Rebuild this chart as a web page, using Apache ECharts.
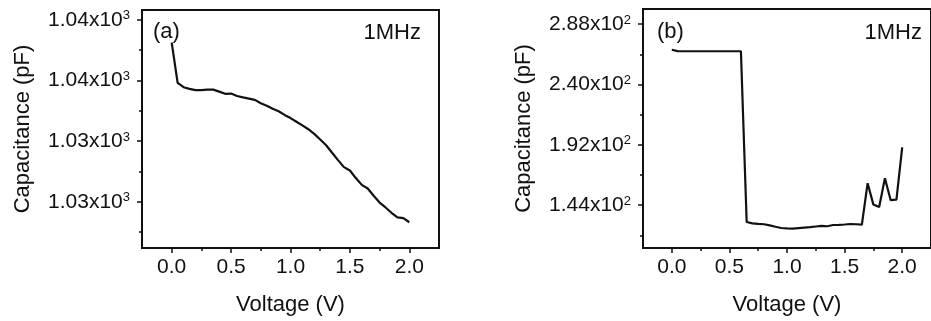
<!DOCTYPE html>
<html>
<head>
<meta charset="utf-8">
<script src="https://cdn.jsdelivr.net/npm/echarts@6.0.0/dist/echarts.min.js"></script>
<style>
  html, body { margin: 0; padding: 0; background: #fff; }
  #chart { width: 931px; height: 321px; }
</style>
</head>
<body>
<div id="chart"></div>
<script>
// panel (a)
const voltageA = [0.00, 0.05, 0.10, 0.15, 0.20, 0.25, 0.30, 0.35, 0.40, 0.45, 0.50, 0.55, 0.60, 0.65, 0.70, 0.75, 0.80, 0.85, 0.90, 0.95, 1.00,
  1.05, 1.10, 1.15, 1.20, 1.25, 1.30, 1.35, 1.40, 1.45, 1.50, 1.55, 1.60, 1.65, 1.70, 1.75, 1.80, 1.85, 1.90, 1.95, 2.00];
const capA = [1036.56, 1034.90, 1034.72, 1034.65, 1034.60, 1034.60, 1034.62, 1034.62, 1034.54, 1034.45, 1034.46, 1034.36, 1034.30, 1034.25, 1034.20, 1034.06, 1033.96, 1033.83, 1033.73, 1033.58, 1033.45,
  1033.30, 1033.15, 1032.99, 1032.80, 1032.57, 1032.33, 1032.02, 1031.72, 1031.43, 1031.29, 1030.98, 1030.70, 1030.55, 1030.25, 1029.97, 1029.77, 1029.55, 1029.36, 1029.33, 1029.16];

// panel (b)
const voltageB = voltageA;
const capB = [267.6, 266.5, 266.4, 266.4, 266.4, 266.4, 266.4, 266.4, 266.4, 266.4, 266.4, 266.4, 266.4, 130.7, 129.6, 129.2, 128.9, 128.0, 126.9, 125.9, 125.6,
  125.4, 125.8, 126.2, 126.6, 127.1, 127.6, 127.3, 128.3, 128.4, 128.7, 129.1, 128.9, 128.6, 161.5, 144.5, 142.6, 165.5, 148.0, 148.5, 190.0];

// ticks
const xTicks = [0, 0.5, 1, 1.5, 2];
const xTickLabels = ['0.0', '0.5', '1.0', '1.5', '2.0'];
const xMinorTicks = [0.25, 0.75, 1.25, 1.75];
const yTicksA = [1030, 1032.5, 1035, 1037.5];
const yTickLabelsA = ['1.03', '1.03', '1.04', '1.04'];
const yMinorA = [1028.75, 1031.25, 1033.75, 1036.25];
const yTicksB = [144, 192, 240, 288];
const yTickLabelsB = ['1.44', '1.92', '2.40', '2.88'];
const yMinorB = [120, 168, 216, 264];

const FONT = '"Liberation Sans", Arial, sans-serif';
const INK = '#111';

function pairs(xs, ys) {
  return xs.map((x, i) => [x, ys[i]]);
}

function xAxes(grid) {
  return [
    {
      gridIndex: grid, type: 'value', min: -0.25, max: 2.25,
      name: 'Voltage (V)', nameLocation: 'middle', nameGap: 46,
      nameTextStyle: { fontFamily: FONT, fontSize: 22, color: INK },
      axisLine: { show: true, onZero: false, lineStyle: { color: INK, width: 2 } },
      axisTick: { show: true, customValues: xTicks, length: 5, lineStyle: { color: INK, width: 1.5 } },
      axisLabel: {
        customValues: xTicks, margin: 9, fontFamily: FONT, fontSize: 21, color: INK,
        formatter: (v) => xTickLabels[xTicks.indexOf(v)]
      },
      splitLine: { show: false }
    },
    {
      gridIndex: grid, type: 'value', min: -0.25, max: 2.25, position: 'bottom',
      axisLine: { show: false, onZero: false },
      axisTick: { show: true, customValues: xMinorTicks, length: 3, lineStyle: { color: INK, width: 1.5 } },
      axisLabel: { show: false },
      splitLine: { show: false }
    }
  ];
}

function yAxes(grid, min, max, ticks, labels, minor, exp) {
  return [
    {
      gridIndex: grid, type: 'value', min: min, max: max,
      name: 'Capacitance (pF)', nameLocation: 'middle', nameGap: 108,
      nameTextStyle: { fontFamily: FONT, fontSize: 22, color: INK },
      axisLine: { show: true, onZero: false, lineStyle: { color: INK, width: 2 } },
      axisTick: { show: true, customValues: ticks, length: 5, lineStyle: { color: INK, width: 1.5 } },
      axisLabel: {
        customValues: ticks, margin: 12, fontFamily: FONT, fontSize: 21, color: INK,
        formatter: (v) => '{n|' + labels[ticks.indexOf(v)] + 'x10}{s|' + exp + '}',
        rich: {
          n: { fontFamily: FONT, fontSize: 21, color: INK },
          s: { fontFamily: FONT, fontSize: 13, color: INK, verticalAlign: 'top' }
        }
      },
      splitLine: { show: false }
    },
    {
      gridIndex: grid, type: 'value', min: min, max: max, position: 'left',
      axisLine: { show: false, onZero: false },
      axisTick: { show: true, customValues: minor, length: 3, lineStyle: { color: INK, width: 1.5 } },
      axisLabel: { show: false },
      splitLine: { show: false }
    }
  ];
}

function label(text, x, y, align) {
  return {
    type: 'text', x: x, y: y, z: 10,
    style: { text: text, font: '22px ' + FONT, fill: INK, textAlign: align, textVerticalAlign: 'middle' }
  };
}

const chart = echarts.init(document.getElementById('chart'));
chart.setOption({
  animation: false,
  backgroundColor: '#fff',
  grid: [
    { left: 142, top: 10, width: 297, height: 238, show: true, borderColor: INK, borderWidth: 2 },
    { left: 643, top: 9, width: 297, height: 239, show: true, borderColor: INK, borderWidth: 2 }
  ],
  xAxis: [...xAxes(0), ...xAxes(1)],
  yAxis: [
    ...yAxes(0, 1028.1, 1037.9, yTicksA, yTickLabelsA, yMinorA, '3'),
    ...yAxes(1, 110, 300, yTicksB, yTickLabelsB, yMinorB, '2')
  ],
  series: [
    {
      type: 'line', xAxisIndex: 0, yAxisIndex: 0, data: pairs(voltageA, capA),
      showSymbol: false, lineStyle: { color: INK, width: 2.2 }
    },
    {
      type: 'line', xAxisIndex: 2, yAxisIndex: 2, data: pairs(voltageB, capB),
      showSymbol: false, lineStyle: { color: INK, width: 2.2 }
    }
  ],
  graphic: [
    label('(a)', 153, 32, 'left'),
    label('1MHz', 421, 33, 'right'),
    label('(b)', 657, 32, 'left'),
    label('1MHz', 922, 33, 'right')
  ]
});
</script>
</body>
</html>
